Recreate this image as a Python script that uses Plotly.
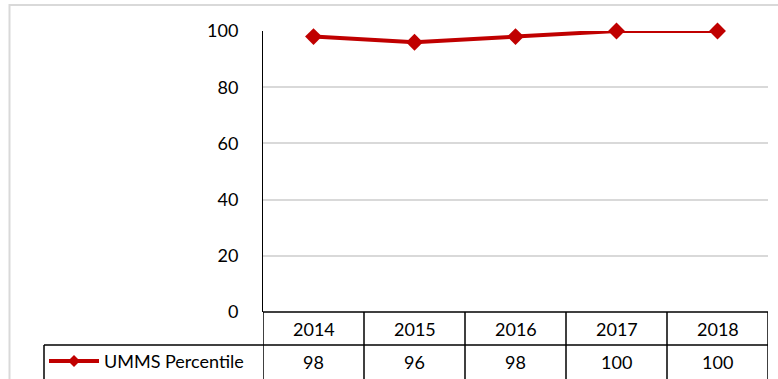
import plotly.graph_objects as go

years = ['2014', '2015', '2016', '2017', '2018']
percentile = [98, 96, 98, 100, 100]
series_name = 'UMMS Percentile'
y_ticks = [0, 20, 40, 60, 80, 100]

RED = '#C00000'
GRID = '#D9D9D9'
FONT = 'Lato'
FS = 18

# plot area in pixels: left 263, right 768, top 31, bottom 312
L, R, T, B = 263, 768, 31, 312


def px(x):
    return (x - L) / (R - L)


def py(y):
    return (B - y) / (B - T)


fig = go.Figure()
fig.add_trace(go.Scatter(
    x=years, y=percentile, mode='lines+markers',
    line=dict(color=RED, width=4),
    marker=dict(symbol='diamond', size=13, color=RED),
    cliponaxis=False, showlegend=False,
))

shapes = []
# outer chart border
shapes.append(dict(type='rect', xref='paper', yref='paper', x0=px(9.5), x1=px(800), y0=py(5), y1=py(400),
                   line=dict(color=GRID, width=2), layer='below'))
# table lines
black = dict(color='black', width=1.5)
header_bottom, table_bottom = 345, 390
for i in range(len(years) + 1):
    shapes.append(dict(type='line', xref='x', yref='paper', x0=i - 0.5, x1=i - 0.5,
                       y0=py(B), y1=py(table_bottom), line=black))
shapes.append(dict(type='line', xref='paper', yref='paper', x0=px(44), x1=px(44),
                   y0=py(header_bottom), y1=py(table_bottom), line=black))
shapes.append(dict(type='line', xref='paper', yref='paper', x0=0, x1=1, y0=0, y1=0, line=black))
shapes.append(dict(type='line', xref='paper', yref='paper', x0=px(44), x1=1,
                   y0=py(header_bottom), y1=py(header_bottom), line=black))
# legend key in the table
key_y = py(361)
shapes.append(dict(type='line', xref='paper', yref='paper', x0=px(49), x1=px(99), y0=key_y, y1=key_y,
                   line=dict(color=RED, width=4)))
shapes.append(dict(type='path', xref='paper', yref='paper', xsizemode='pixel', ysizemode='pixel',
                   xanchor=px(74), yanchor=key_y,
                   path='M -6 0 L 0 6 L 6 0 L 0 -6 Z', fillcolor=RED, line=dict(color=RED, width=0)))

annotations = []
for i, (yr, v) in enumerate(zip(years, percentile)):
    annotations.append(dict(x=i, y=py(328.5), xref='x', yref='paper', text=yr, showarrow=False,
                            xanchor='center', yanchor='middle',
                            font=dict(family=FONT, size=FS, color='black')))
    annotations.append(dict(x=i, y=py(362), xref='x', yref='paper', text=str(v), showarrow=False,
                            xanchor='center', yanchor='middle',
                            font=dict(family=FONT, size=FS, color='black')))
annotations.append(dict(x=px(102), y=py(361), xref='paper', yref='paper', text=series_name, showarrow=False,
                        xanchor='left', yanchor='middle', font=dict(family=FONT, size=FS, color='black')))

fig.update_layout(
    width=778, height=379,
    margin=dict(l=L, r=778 - R, t=T, b=379 - B),
    paper_bgcolor='white', plot_bgcolor='white',
    font=dict(family=FONT, size=FS, color='black'),
    shapes=shapes, annotations=annotations,
    xaxis=dict(type='category', range=[-0.5, len(years) - 0.5], showticklabels=False, showgrid=False,
               zeroline=False, fixedrange=True),
    yaxis=dict(range=[0, 100], tickvals=y_ticks, showgrid=True, gridcolor=GRID, gridwidth=1.5,
               zeroline=False, showline=True, linecolor='black', linewidth=1,
               ticks='', ticklabelstandoff=20, fixedrange=True),
)

fig.write_html('out.html', config={'displayModeBar': False},
               post_script="document.body.style.margin='0';")
